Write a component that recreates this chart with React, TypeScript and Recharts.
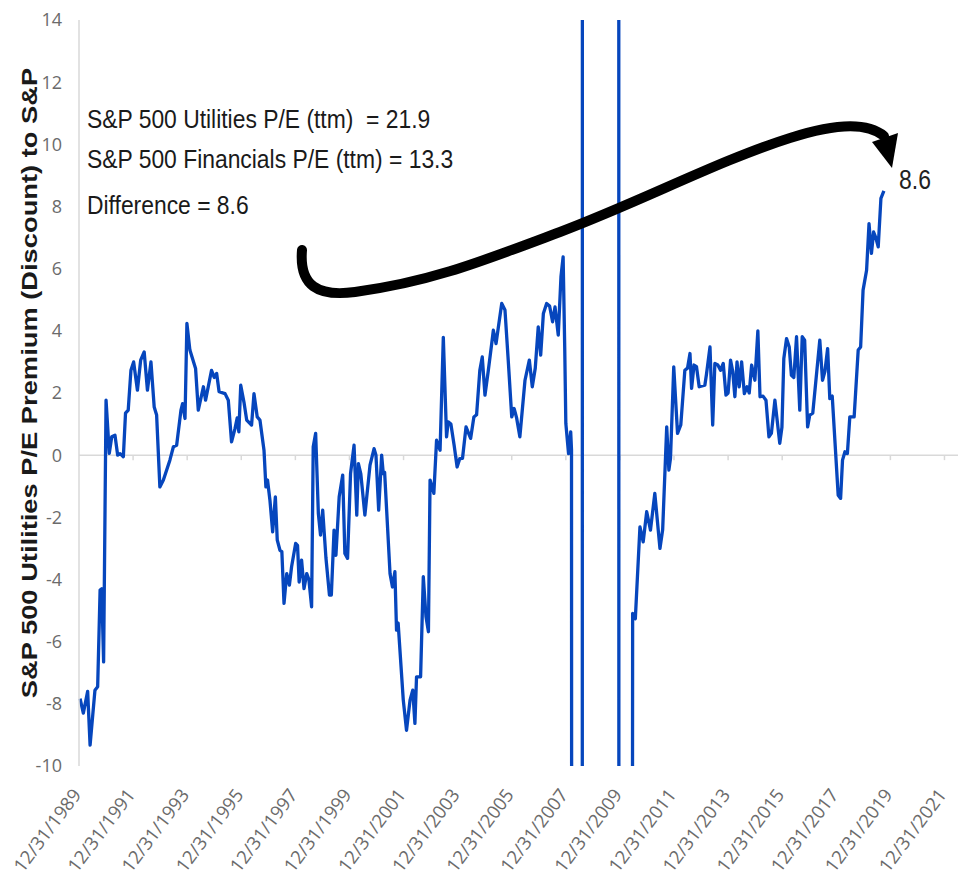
import { LineChart, Line, XAxis, YAxis, ReferenceLine } from 'recharts'

/* ---------- data ---------- */
// x = decimal year, 12/31/1989 == 1990.0
const xTicks = [1990, 1992, 1994, 1996, 1998, 2000, 2002, 2004, 2006, 2008, 2010, 2012, 2014, 2016, 2018, 2020, 2022]
const yTicks = [-10, -8, -6, -4, -2, 0, 2, 4, 6, 8, 10, 12, 14]

const dates1990s = [
  1990.04, 1990.16, 1990.32, 1990.41, 1990.59, 1990.69, 1990.78, 1990.84, 1990.91, 1991.0,
  1991.12, 1991.21, 1991.33, 1991.43, 1991.52, 1991.64, 1991.72, 1991.82, 1991.92, 1992.02,
  1992.16, 1992.28, 1992.41, 1992.53, 1992.66, 1992.78, 1992.87, 1992.99, 1993.12, 1993.36,
  1993.49, 1993.61, 1993.77, 1993.83, 1993.92, 1993.99, 1994.1, 1994.31, 1994.41, 1994.6,
  1994.68, 1994.9, 1995.0, 1995.09, 1995.18, 1995.4, 1995.52, 1995.64, 1995.77, 1995.85,
  1995.91, 1995.98, 1996.1, 1996.2, 1996.38, 1996.47, 1996.59, 1996.69, 1996.84, 1996.91,
  1996.97, 1997.06, 1997.16, 1997.26, 1997.33, 1997.43, 1997.5, 1997.58, 1997.68, 1997.78,
  1997.86, 1998.01, 1998.08, 1998.14, 1998.23, 1998.32, 1998.42, 1998.5, 1998.6, 1998.66,
  1998.75, 1998.85, 1998.93, 1999.01, 1999.13, 1999.26, 1999.33, 1999.43, 1999.5, 1999.62,
  1999.75, 1999.83, 1999.93,
]
const premium1990s = [
  -7.83, -8.3, -7.6, -9.33, -7.56, -7.45, -4.34, -4.3, -6.65, 1.77,
  0.06, 0.59, 0.64, 0.0, 0.05, -0.05, 1.35, 1.45, 2.73, 3.0,
  2.09, 3.06, 3.32, 2.09, 3.0, 1.55, 1.29, -1.02, -0.8, -0.16,
  0.27, 0.32, 1.45, 1.66, 1.18, 4.24, 3.38, 2.79, 1.45, 2.2,
  1.77, 2.73, 2.5, 2.63, 2.04, 1.98, 1.77, 0.43, 0.86, 1.2,
  0.75, 2.25, 1.7, 1.13, 0.97, 1.98, 1.23, 1.13, 0.16, -1.02,
  -0.8, -1.45, -2.47, -1.34, -2.73, -3.06, -3.1, -4.77, -3.81, -4.18,
  -3.59, -2.84, -2.9, -4.08, -3.38, -4.29, -3.81, -4.0, -4.88, 0.27,
  0.7, -1.88, -2.57, -1.77, -3.3, -4.5, -4.5, -2.41, -3.22, -1.34,
  -0.64, -3.16, -3.32,
]

// 2008-09: financials earnings collapse, values run far off the scale
const dates2000s = [
  2000.04, 2000.17, 2000.27, 2000.33, 2000.42, 2000.57, 2000.76, 2000.91, 2000.98, 2001.08,
  2001.19, 2001.25, 2001.3, 2001.5, 2001.59, 2001.68, 2001.74, 2001.8, 2001.99, 2002.11,
  2002.24, 2002.34, 2002.42, 2002.48, 2002.63, 2002.73, 2002.83, 2002.92, 2002.98, 2003.12,
  2003.22, 2003.35, 2003.47, 2003.59, 2003.65, 2003.75, 2003.87, 2003.98, 2004.08, 2004.18,
  2004.31, 2004.48, 2004.6, 2004.7, 2004.82, 2004.91, 2005.01, 2005.13, 2005.26, 2005.32,
  2005.42, 2005.63, 2005.75, 2005.87, 2006.0, 2006.09, 2006.18, 2006.3, 2006.49, 2006.65,
  2006.76, 2006.87, 2006.98, 2007.07, 2007.17, 2007.29, 2007.4, 2007.51, 2007.6, 2007.72,
  2007.82, 2007.9, 2007.96, 2008.0, 2008.1, 2008.18, 2008.21, 2008.24, 2008.6, 2008.62,
  2009.95, 2009.97,
]
const premium2000s = [
  -0.59, 0.32, -1.93, -0.27, -0.6, -1.93, -0.32, 0.21, 0.0, -1.77,
  0.0, -0.59, -0.55, -3.81, -4.24, -3.75, -5.63, -5.4, -7.88, -8.85,
  -7.88, -7.56, -8.63, -7.13, -7.13, -3.91, -5.2, -5.68, -0.8, -1.23,
  0.48, 0.16, 3.79, 0.59, 1.07, 1.0, 0.32, -0.38, -0.11, -0.1,
  0.91, 0.54, 1.23, 1.3, 2.73, 3.16, 1.93, 2.7, 3.59, 4.02,
  3.59, 4.88, 4.67, 3.06, 1.23, 1.5, 1.2, 0.59, 2.41, 3.06,
  2.2, 2.8, 4.13, 3.22, 4.56, 4.88, 4.8, 4.29, 4.77, 3.86,
  5.74, 6.38, 3.4, 1.02, 0.05, 0.75, 0.16, -80, -80, 80,
  80, -80,
]

const dates2010s = [
  2010.4, 2010.47, 2010.57, 2010.74, 2010.86, 2010.99, 2011.13, 2011.29, 2011.48, 2011.58,
  2011.73, 2011.81, 2011.87, 2011.99, 2012.13, 2012.25, 2012.4, 2012.5, 2012.59, 2012.65,
  2012.74, 2012.83, 2012.93, 2013.14, 2013.2, 2013.33, 2013.43, 2013.51, 2013.62, 2013.72,
  2013.82, 2013.92, 2014.0, 2014.09, 2014.17, 2014.25, 2014.33, 2014.41, 2014.5, 2014.6,
  2014.7, 2014.78, 2014.87, 2014.99, 2015.1, 2015.18, 2015.29, 2015.4, 2015.51, 2015.6,
  2015.73, 2015.91, 2015.99, 2016.06, 2016.16, 2016.26, 2016.34, 2016.43, 2016.53, 2016.65,
  2016.74, 2016.83, 2016.94, 2017.02, 2017.13, 2017.39, 2017.49, 2017.58, 2017.68, 2017.76,
  2017.85, 2018.07, 2018.16, 2018.23, 2018.32, 2018.41, 2018.5, 2018.66, 2018.81, 2018.9,
  2018.99, 2019.12, 2019.21, 2019.3, 2019.38, 2019.46, 2019.55, 2019.65, 2019.76,
]
const premium2010s = [
  -80, -5.09, -5.26, -2.31, -2.79, -1.82, -2.41, -1.23, -3.0, -2.4,
  0.91, -0.48, -0.1, 2.84, 0.7, 0.97, 2.73, 2.8, 3.27, 2.15,
  2.9, 2.85, 2.2, 2.25, 2.6, 3.48, 0.97, 2.95, 2.9, 2.73,
  2.95, 1.93, 2.0, 3.06, 2.7, 1.88, 3.0, 2.2, 3.0, 1.98,
  2.2, 2.0, 2.9, 2.41, 4.0, 1.88, 1.9, 1.77, 0.59, 0.7,
  1.77, 0.38, 0.9, 3.11, 3.75, 3.48, 2.57, 2.5, 3.81, 1.45,
  3.81, 3.7, 0.91, 1.29, 1.35, 3.7, 2.41, 2.7, 3.43, 1.82,
  1.9, -1.29, -1.39, -0.16, 0.11, 0.05, 1.23, 1.23, 3.38, 3.48,
  5.31, 5.95, 7.45, 6.49, 7.18, 7.0, 6.7, 8.26, 8.5,
]

const annotations = [
  'S&P 500 Utilities P/E (ttm)  = 21.9',
  'S&P 500 Financials P/E (ttm) = 13.3',
  'Difference = 8.6',
]
const lastLabel = '8.6'

const dates = [...dates1990s, ...dates2000s, ...dates2010s]
const premium = [...premium1990s, ...premium2000s, ...premium2010s]
const data = dates.map((d, i) => ({ date: d, premium: premium[i] }))

const BLUE = '#0646bd'
const GRID = '#d9d9d9'
const TICK = '#6b6b6b'
const TEXT_FONT = "'Liberation Sans', Arial, sans-serif"

function DateTick({ x, y, payload }: any) {
  const ax = x + 3
  const ay = y + 29
  return (
    <text x={ax} y={ay} transform={`rotate(-53, ${ax}, ${ay})`} textAnchor="end"
      fill={TICK} fontSize={18.5} fontFamily="'Open Sans', sans-serif">
      {`12/31/${payload.value - 1}`}
    </text>
  )
}

export default function App() {
  return (
    <div style={{ position: 'absolute', left: 0, top: 0, width: 961, height: 881, background: '#fff' }}>
      <LineChart width={961} height={881} data={data} margin={{ top: 20, right: 3, bottom: 5, left: 39 }}>
        <XAxis
          dataKey="date" type="number" domain={[1990, 2022.5]} ticks={xTicks} interval={0}
          axisLine={false} tickLine={false} tickSize={0} tickMargin={0} height={110}
          tick={<DateTick />}
        />
        <YAxis
          type="number" domain={[-10, 14]} ticks={yTicks} interval={0} allowDataOverflow
          width={40} axisLine={{ stroke: GRID, strokeWidth: 1.5 }} tickLine={false} tickSize={0} tickMargin={17}
          tick={{ fill: TICK, fontSize: 18, fontFamily: "'Open Sans', sans-serif" }}
        />
        <ReferenceLine y={0} stroke={GRID} strokeWidth={1.5} />
        {xTicks.slice(1).map((t) => (
          <ReferenceLine key={t} segment={[{ x: t, y: 0 }, { x: t, y: -0.16 }]} stroke={GRID} strokeWidth={1.5} />
        ))}
        <Line type="linear" dataKey="premium" stroke={BLUE} strokeWidth={3.3} dot={false}
          strokeLinejoin="round" isAnimationActive={false} />
      </LineChart>

      {/* annotation layer: axis title, text box, curved arrow */}
      <svg width={961} height={881} style={{ position: 'absolute', left: 0, top: 0, pointerEvents: 'none' }}>
        <text transform="translate(37, 383) rotate(-90) scale(1.27, 1)" textAnchor="middle"
          fontFamily={TEXT_FONT} fontWeight="bold" fontSize={21.5} fill="#1a1a1a">
          S&amp;P 500 Utilities P/E Premium (Discount) to S&amp;P
        </text>
        {annotations.map((t, i) => (
          <text key={i} transform={`translate(87, ${[128, 168, 214][i]}) scale(0.88, 1)`} fontSize={26} fill="#1a1a1a"
            fontFamily={TEXT_FONT} style={{ whiteSpace: 'pre' }}>
            {t}
          </text>
        ))}
        <path
          d="M 302 250 C 299 286, 318 297, 355 292 C 430 282, 480 262, 560 232 C 640 202, 720 160, 790 138 C 830 125, 866 121, 884 136"
          fill="none" stroke="#000" strokeWidth={10} strokeLinecap="round"
        />
        <polygon points="872,142 898,133 892,168" fill="#000" />
        <text transform="translate(899, 189) scale(0.85, 1)" fontSize={27} fill="#222"
          fontFamily={TEXT_FONT}>{lastLabel}</text>
      </svg>
    </div>
  )
}
